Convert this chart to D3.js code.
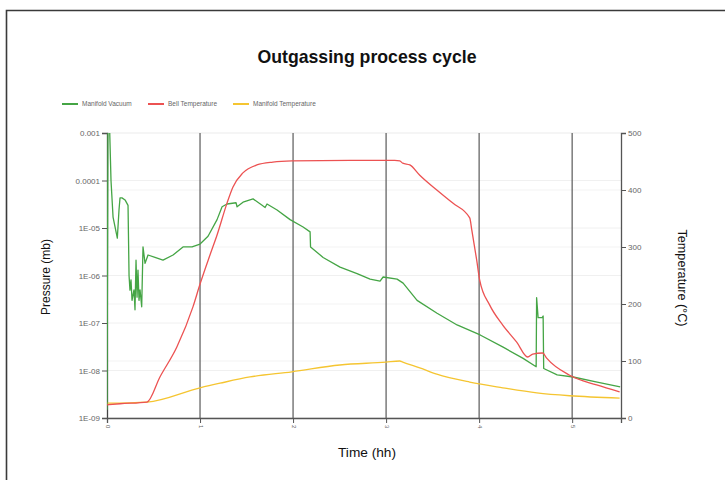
<!DOCTYPE html>
<html>
<head>
<meta charset="utf-8">
<script src="https://cdn.jsdelivr.net/npm/d3@7"></script>
<style>
  body { margin: 0; background: #fff; }
  svg { display: block; }
  .narrow { font-family: "Liberation Sans Narrow", "Arial Narrow", "Liberation Sans", sans-serif; font-stretch: condensed; }
</style>
</head>
<body>
<script>
// time in hours, pressure in mb, temperature in °C
const vacuumTime = [0, 0.011, 0.027, 0.043, 0.065, 0.111, 0.129, 0.140, 0.161, 0.194, 0.226, 0.237, 0.247, 0.258, 0.269, 0.290, 0.301, 0.312, 0.323, 0.333, 0.344, 0.355, 0.373, 0.387, 0.409, 0.441, 0.516, 0.602, 0.710, 0.817, 0.914, 1.0, 1.086, 1.183, 1.237, 1.290, 1.387, 1.398, 1.462, 1.570, 1.667, 1.699, 1.720, 1.828, 1.968, 2.108, 2.183, 2.188, 2.323, 2.505, 2.688, 2.828, 2.935, 2.968, 3.118, 3.183, 3.333, 3.548, 3.763, 4.011, 4.258, 4.473, 4.613, 4.618, 4.634, 4.677, 4.688, 4.694, 4.839, 5.011, 5.269, 5.516];
const vacuumValue = [1.5e-9, 2e-3, 1.5e-3, 1.0e-4, 1.7e-5, 6.1e-6, 2.4e-5, 4.3e-5, 4.3e-5, 3.9e-5, 3.0e-5, 1.0e-6, 4.9e-7, 8.1e-7, 3.0e-7, 5.0e-7, 1.9e-7, 2.1e-6, 3.5e-7, 1.3e-6, 3.0e-7, 5.0e-7, 2.2e-7, 4.0e-6, 1.8e-6, 2.7e-6, 2.4e-6, 2.1e-6, 2.7e-6, 4.0e-6, 4.0e-6, 4.6e-6, 6.7e-6, 1.5e-5, 2.8e-5, 3.2e-5, 3.4e-5, 2.8e-5, 3.5e-5, 4.1e-5, 3.0e-5, 2.7e-5, 3.2e-5, 2.4e-5, 1.5e-5, 1.05e-5, 8.3e-6, 4.0e-6, 2.4e-6, 1.5e-6, 1.1e-6, 8.4e-7, 7.6e-7, 9.3e-7, 8.4e-7, 6.9e-7, 3.0e-7, 1.6e-7, 9.1e-8, 5.6e-8, 3.1e-8, 1.8e-8, 1.2e-8, 3.4e-7, 1.3e-7, 1.3e-7, 1.4e-7, 1.1e-8, 8.1e-9, 7.3e-9, 5.7e-9, 4.5e-9];

const bellTime = [0, 0.140, 0.430, 0.569, 0.752, 0.924, 1.0, 1.107, 1.183, 1.290, 1.353, 1.461, 1.611, 1.783, 1.987, 2.610, 3.093, 3.147, 3.179, 3.255, 3.362, 3.545, 3.717, 3.899, 3.921, 3.974, 4.006, 4.114, 4.254, 4.404, 4.522, 4.576, 4.683, 4.726, 4.973, 5.263, 5.510];
const bellValue = [23, 25, 28, 72, 125, 195, 235, 286, 321, 377, 405, 430, 444, 449, 451, 452, 452, 451, 447, 444, 426, 400, 377, 351, 330, 277, 242, 198, 163, 133, 107, 112, 114, 105, 75, 58, 46];

const manifoldTime = [0, 0.430, 1.0, 1.215, 1.537, 1.987, 2.503, 2.997, 3.147, 3.179, 3.362, 3.545, 3.899, 4.254, 4.620, 4.973, 5.510];
const manifoldValue = [26, 28, 53, 61, 72, 81, 93, 98, 100, 98, 88, 77, 63, 53, 44, 39, 35];

const pressureTicks = [1e-9, 1e-8, 1e-7, 1e-6, 1e-5, 1e-4, 1e-3];
const pressureLabels = ["1E-09", "1E-08", "1E-07", "1E-06", "1E-05", "0.0001", "0.001"];
const tempTicks = [0, 100, 200, 300, 400, 500];
const timeTicks = [0, 1, 2, 3, 4, 5];

const seriesNames = ["Manifold Vacuum", "Bell Temperature", "Manifold Temperature"];
const colors = ["#45a545", "#ec5252", "#f5c531"];

const W = 725, H = 480;
const margin = { top: 133, right: 104, bottom: 62, left: 107 };
const width = W - margin.left - margin.right;
const height = H - margin.top - margin.bottom;

const svg = d3.select('body').append('svg')
    .attr('width', W)
    .attr('height', H);

// outer frame (top and left edges)
svg.append('path')
    .attr('d', `M6.5,${H} V10.5 H${W}`)
    .attr('fill', 'none')
    .attr('stroke', '#3a3a3a')
    .attr('stroke-width', 1.6);

svg.append('text')
    .attr('class', 'narrow')
    .attr('x', 367).attr('y', 63)
    .attr('text-anchor', 'middle')
    .attr('font-size', 19).attr('font-weight', 'bold')
    .attr('fill', '#111')
    .attr('textLength', 219).attr('lengthAdjust', 'spacingAndGlyphs')
    .text('Outgassing process cycle');

const g = svg.append('g')
    .attr('transform', `translate(${margin.left}, ${margin.top})`);

const x = d3.scaleLinear().domain([0, 5.525]).range([0, width]);
const yP = d3.scaleLog().domain([1e-9, 1e-3]).range([height, 0]);
const yT = d3.scaleLinear().domain([0, 500]).range([height, 0]);

// faint gridlines
g.append('g').selectAll('line').data(pressureTicks).join('line')
    .attr('x1', 0).attr('x2', width)
    .attr('y1', d => yP(d)).attr('y2', d => yP(d))
    .attr('stroke', '#f0f0f0');
g.append('g').selectAll('line').data(tempTicks).join('line')
    .attr('x1', 0).attr('x2', width)
    .attr('y1', d => yT(d)).attr('y2', d => yT(d))
    .attr('stroke', '#f3f3f3');

// vertical hour lines
g.append('g').selectAll('line').data(timeTicks.slice(1)).join('line')
    .attr('x1', d => x(d)).attr('x2', d => x(d))
    .attr('y1', 0).attr('y2', height)
    .attr('stroke', '#666').attr('stroke-width', 1.3);

// axes
const leftAxis = g.append('g')
    .call(d3.axisLeft(yP).tickValues(pressureTicks).tickFormat((d, i) => pressureLabels[i]).tickSize(5).tickPadding(2));
const rightAxis = g.append('g')
    .attr('transform', `translate(${width},0)`)
    .call(d3.axisRight(yT).tickValues(tempTicks).tickSize(5).tickPadding(2));
const bottomAxis = g.append('g')
    .attr('transform', `translate(0,${height})`)
    .call(d3.axisBottom(x).tickValues(timeTicks).tickSize(5).tickFormat(d3.format('d')));

[leftAxis, rightAxis, bottomAxis].forEach(a => {
    a.select('.domain').attr('stroke', '#555').attr('stroke-width', 1.3);
    a.selectAll('.tick line').attr('stroke', '#555');
    a.selectAll('text').attr('fill', '#666').attr('font-size', 8)
        .attr('font-family', '"Liberation Sans", Arial, sans-serif');
});
leftAxis.select('.domain').attr('stroke', '#444');
bottomAxis.selectAll('text')
    .attr('transform', 'rotate(90)')
    .attr('dy', '0.32em').attr('dx', 0)
    .attr('x', 7).attr('y', 0)
    .attr('text-anchor', 'start')
    .attr('font-size', 6);

// series
g.append('clipPath').attr('id', 'clip')
    .append('rect').attr('width', width).attr('height', height);

const lineP = d3.line().x(d => x(d[0])).y(d => yP(d[1]));
const lineT = d3.line().x(d => x(d[0])).y(d => yT(d[1])).curve(d3.curveMonotoneX);

const plot = g.append('g').attr('clip-path', 'url(#clip)');
plot.append('path')
    .datum(d3.zip(manifoldTime, manifoldValue))
    .attr('d', lineT).attr('fill', 'none')
    .attr('stroke', colors[2]).attr('stroke-width', 1.3);
plot.append('path')
    .datum(d3.zip(vacuumTime, vacuumValue))
    .attr('d', lineP).attr('fill', 'none')
    .attr('stroke', colors[0]).attr('stroke-width', 1.3)
    .attr('stroke-linejoin', 'round');
plot.append('path')
    .datum(d3.zip(bellTime, bellValue))
    .attr('d', lineT).attr('fill', 'none')
    .attr('stroke', colors[1]).attr('stroke-width', 1.3);

// legend
const legendX = [62, 148, 233];
const legend = svg.append('g').selectAll('g').data(seriesNames).join('g')
    .attr('transform', (d, i) => `translate(${legendX[i]}, 104)`);
legend.append('line')
    .attr('x1', 0).attr('x2', 16)
    .attr('stroke', (d, i) => colors[i]).attr('stroke-width', 2);
legend.append('text')
    .attr('x', 20).attr('dy', '0.32em')
    .attr('font-size', 6.5).attr('fill', '#666')
    .attr('font-family', '"Liberation Sans", Arial, sans-serif')
    .text(d => d);

// axis titles
svg.append('text')
    .attr('class', 'narrow')
    .attr('transform', 'translate(50, 277) rotate(-90)')
    .attr('text-anchor', 'middle')
    .attr('font-size', 13).attr('fill', '#111')
    .attr('textLength', 76).attr('lengthAdjust', 'spacingAndGlyphs')
    .text('Pressure (mb)');
svg.append('text')
    .attr('class', 'narrow')
    .attr('transform', 'translate(678, 278) rotate(90)')
    .attr('text-anchor', 'middle')
    .attr('font-size', 13).attr('fill', '#111')
    .attr('textLength', 97).attr('lengthAdjust', 'spacingAndGlyphs')
    .text('Temperature (°C)');
svg.append('text')
    .attr('class', 'narrow')
    .attr('x', 367).attr('y', 457)
    .attr('text-anchor', 'middle')
    .attr('font-size', 13).attr('fill', '#111')
    .attr('textLength', 58).attr('lengthAdjust', 'spacingAndGlyphs')
    .text('Time (hh)');
</script>
</body>
</html>
